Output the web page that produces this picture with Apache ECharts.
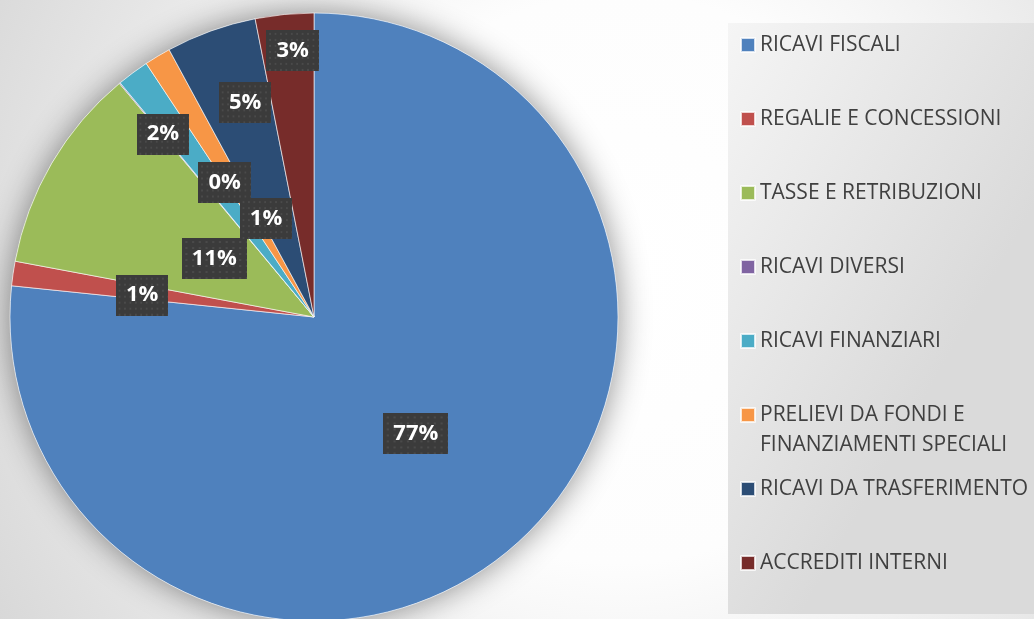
<!DOCTYPE html>
<html>
<head>
<meta charset="utf-8">
<style>
  html, body { margin: 0; padding: 0; }
  #chart { width: 1034px; height: 619px; }
</style>
<script src="https://cdn.jsdelivr.net/npm/echarts@6/dist/echarts.min.js"></script>
</head>
<body>
<div id="chart"></div>
<script>
const categories = [
  "RICAVI FISCALI",
  "REGALIE E CONCESSIONI",
  "TASSE E RETRIBUZIONI",
  "RICAVI DIVERSI",
  "RICAVI FINANZIARI",
  "PRELIEVI DA FONDI E\nFINANZIAMENTI SPECIALI",
  "RICAVI DA TRASFERIMENTO",
  "ACCREDITI INTERNI"
];
const values = [76.6, 1.3, 11.0, 0.05, 1.7, 1.4, 4.8, 3.1];
const colors = ["#4F81BD", "#C0504D", "#9BBB59", "#8064A2", "#4BACC6", "#F79646", "#2C4D75", "#772C2A"];

// excel-like "best fit" label spots: angle nudge (deg) and share of radius
const labelNudge = [1, -1, 0, 6, -3, 5, 2, 1];
const labelRadius = [0.51, 0.57, 0.38, 0.53, 0.78, 0.36, 0.74, 0.88];

const CX = 314, CY = 317, R = 304;
const LINE_H = 30, GAP = 44;

function dotPattern(w, h) {
  const c = document.createElement("canvas");
  c.width = w;
  c.height = h;
  const ctx = c.getContext("2d");
  ctx.fillStyle = "#3b3b3b";
  ctx.fillRect(0, 0, w, h);
  ctx.fillStyle = "#4a4a4a";
  for (let y = 3; y < h; y += 6) {
    for (let x = 3; x < w; x += 6) ctx.fillRect(x, y, 2, 2);
  }
  return c;
}

const legendFont = { fontFamily: "Open Sans", fontSize: 21, color: "#404040" };

// shared legend look; the excel legend keeps a fixed pitch even for the
// wrapped entry, so the list is split in two legends stacked in one box
function legendBlock(names, extra) {
  return Object.assign({
    data: names,
    orient: "vertical",
    left: 728,
    itemGap: GAP,
    itemWidth: 14,
    itemHeight: 14,
    icon: "rect",
    selectedMode: false,
    formatter: function (name) {
      const lines = name.split("\n");
      return lines.map((l, i) => (i === 0 ? "{a|" : "{b|") + l + "}").join("\n");
    },
    textStyle: Object.assign({
      lineHeight: LINE_H,
      rich: {
        a: Object.assign({ lineHeight: LINE_H }, legendFont),
        b: Object.assign({ lineHeight: 0, height: LINE_H, verticalAlign: "top" }, legendFont)
      }
    }, legendFont)
  }, extra);
}

const firstPart = categories.slice(0, 6);
const secondPart = categories.slice(6);

const chart = echarts.init(document.getElementById("chart"));
chart.setOption({
  animation: false,
  color: colors,
  backgroundColor: {
    type: "radial", x: 0.6, y: 0.45, r: 1.15,
    colorStops: [
      { offset: 0, color: "#ffffff" },
      { offset: 0.4, color: "#fdfdfd" },
      { offset: 1, color: "#d8d8d8" }
    ]
  },
  legend: [
    legendBlock(secondPart, {
      z: 3,
      top: 23,
      padding: [7 + firstPart.length * (LINE_H + GAP), 10, 36, 12],
      backgroundColor: {
        type: "linear", x: 0, y: 0, x2: 1, y2: 0.3,
        colorStops: [
          { offset: 0, color: "#f5f5f5" },
          { offset: 1, color: "#dadada" }
        ]
      }
    }),
    legendBlock(firstPart, {
      z: 4,
      top: 23,
      padding: [7, 10, 0, 12]
    })
  ],
  series: [
    {
      // soft drop shadow under the pie
      type: "pie",
      center: [CX, CY],
      radius: R,
      silent: true,
      label: { show: false },
      itemStyle: { color: "#ffffff", shadowBlur: 32, shadowColor: "rgba(0,0,0,0.45)" },
      data: [{ value: 1, name: "" }]
    },
    {
      type: "pie",
      center: [CX, CY],
      radius: R,
      startAngle: 90,
      clockwise: true,
      percentPrecision: 0,
      itemStyle: { borderColor: "rgba(255,255,255,0.75)", borderWidth: 0.8 },
      label: {
        show: true,
        position: "inside",
        formatter: "{d}%",
        fontFamily: "Open Sans",
        fontWeight: "bold",
        fontSize: 22,
        lineHeight: 21,
        color: "#ffffff",
        padding: [10, 10],
        backgroundColor: { image: dotPattern(58, 41) },
        shadowColor: "rgba(0,0,0,0.45)",
        shadowBlur: 6,
        shadowOffsetX: 2,
        shadowOffsetY: 3
      },
      labelLine: { show: false },
      labelLayout: function (p) {
        const i = p.dataIndex;
        const r = p.labelRect;
        const lx = r.x + r.width / 2, ly = r.y + r.height / 2;
        const a = Math.atan2(ly - CY, lx - CX) + labelNudge[i] * Math.PI / 180;
        const rr = labelRadius[i] * R;
        return {
          x: CX + rr * Math.cos(a),
          y: CY + rr * Math.sin(a),
          align: "center",
          verticalAlign: "middle"
        };
      },
      data: categories.map((c, i) => ({ name: c, value: values[i] }))
    }
  ]
});
</script>
</body>
</html>
